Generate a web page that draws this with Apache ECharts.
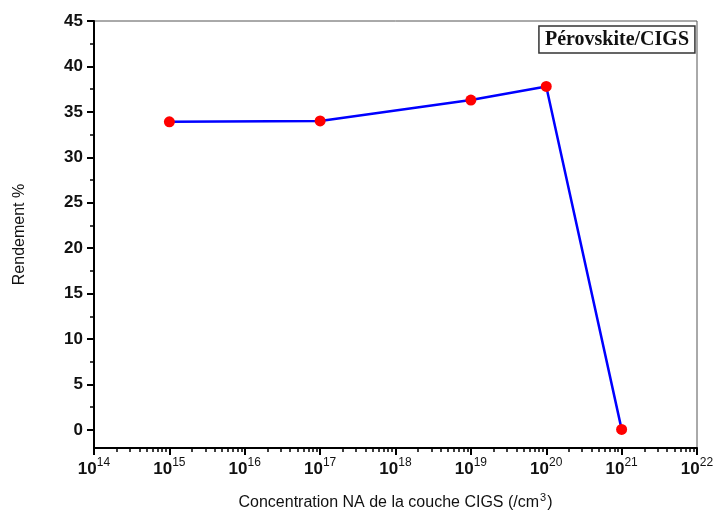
<!DOCTYPE html>
<html>
<head>
<meta charset="utf-8">
<title>Rendement vs concentration NA</title>
<script src="https://cdn.jsdelivr.net/npm/echarts@6/dist/echarts.min.js"></script>
<style>
  html, body { margin: 0; padding: 0; background: #fff; }
  #chart { width: 715px; height: 512px; }
</style>
</head>
<body>
<div id="chart"></div>
<script>
// Acceptor doping of the CIGS layer (cm^-3) and resulting efficiency (%)
const concentrations = [1e15, 1e17, 1e19, 1e20, 1e21];
const rendement = [33.9, 34.0, 36.3, 37.8, 0.05];

// Axis tick values
const yMajorTicks = [0, 5, 10, 15, 20, 25, 30, 35, 40, 45];
const yMinorTicks = [2.5, 7.5, 12.5, 17.5, 22.5, 27.5, 32.5, 37.5, 42.5];
const xDecades = [1e14, 1e15, 1e16, 1e17, 1e18, 1e19, 1e20, 1e21, 1e22];

const xMinorTicks = [];
for (let d = 0; d < xDecades.length - 1; d++) {
  for (let k = 2; k <= 9; k++) xMinorTicks.push(k * xDecades[d]);
}

const FONT = 'Arial, "Liberation Sans", sans-serif';

const chart = echarts.init(document.getElementById('chart'));

const xBase = {
  type: 'log',
  logBase: 10,
  min: 1e14,
  max: 1e22,
  splitLine: { show: false }
};
const yBase = {
  type: 'value',
  min: -2,
  max: 45,
  splitLine: { show: false }
};

chart.setOption({
  animation: false,
  backgroundColor: '#fff',
  title: {
    text: 'Pérovskite/CIGS',
    right: 20,
    top: 26,
    padding: [4, 6, 3, 6],
    borderColor: '#333',
    borderWidth: 1.5,
    textStyle: {
      fontFamily: '"Liberation Serif", "Times New Roman", serif',
      fontWeight: 'bold',
      fontSize: 20,
      lineHeight: 20,
      color: '#111'
    }
  },
  grid: {
    left: 94,
    right: 18,
    top: 21,
    bottom: 64,
    outerBoundsMode: 'none',
    show: true,
    borderColor: '#555',
    borderWidth: 1
  },
  xAxis: [
    Object.assign({}, xBase, {
      position: 'bottom',
      name: '{t|Concentration NA de la couche CIGS (/cm}{s|3}{t|)}',
      nameLocation: 'middle',
      nameGap: 44,
      nameTextStyle: {
        fontFamily: FONT,
        fontSize: 16,
        color: '#111',
        rich: {
          t: { fontFamily: FONT, fontSize: 16, color: '#111', lineHeight: 19, verticalAlign: 'bottom' },
          s: { fontFamily: FONT, fontSize: 11, color: '#111', lineHeight: 12, verticalAlign: 'top', padding: [0, 1, 0, 1] }
        }
      },
      axisLine: { show: true, onZero: false, lineStyle: { color: '#000', width: 2 } },
      axisTick: {
        show: true,
        inside: false,
        length: 7,
        lineStyle: { color: '#000', width: 2 },
        customValues: xDecades
      },
      axisLabel: {
        show: true,
        margin: 9,
        customValues: xDecades,
        formatter: function (v) {
          const e = Math.round(Math.log10(v));
          return '{b|10}{s|' + e + '}';
        },
        rich: {
          b: { fontFamily: FONT, fontWeight: 'bold', fontSize: 17, color: '#111', lineHeight: 21, verticalAlign: 'bottom' },
          s: { fontFamily: FONT, fontWeight: 'normal', fontSize: 12, color: '#111', lineHeight: 13, verticalAlign: 'top' }
        }
      }
    }),
    Object.assign({}, xBase, {
      position: 'bottom',
      axisLine: { show: false, onZero: false },
      axisTick: {
        show: true,
        inside: false,
        length: 4,
        lineStyle: { color: '#000', width: 1.5 },
        customValues: xMinorTicks
      },
      axisLabel: { show: false }
    })
  ],
  yAxis: [
    Object.assign({}, yBase, {
      position: 'left',
      name: 'Rendement %',
      nameLocation: 'middle',
      nameGap: 66,
      nameRotate: 90,
      nameTextStyle: { fontFamily: FONT, fontSize: 16, color: '#111' },
      axisLine: { show: true, onZero: false, lineStyle: { color: '#000', width: 2 } },
      axisTick: {
        show: true,
        inside: false,
        length: 7,
        lineStyle: { color: '#000', width: 2 },
        customValues: yMajorTicks
      },
      axisLabel: {
        show: true,
        margin: 11,
        customValues: yMajorTicks,
        fontFamily: FONT,
        fontWeight: 'bold',
        fontSize: 17,
        color: '#111'
      }
    }),
    Object.assign({}, yBase, {
      position: 'left',
      axisLine: { show: false, onZero: false },
      axisTick: {
        show: true,
        inside: false,
        length: 4,
        lineStyle: { color: '#000', width: 1.5 },
        customValues: yMinorTicks
      },
      axisLabel: { show: false }
    })
  ],
  series: [{
    type: 'line',
    xAxisIndex: 0,
    yAxisIndex: 0,
    data: concentrations.map((c, i) => [c, rendement[i]]),
    lineStyle: { color: '#0000ff', width: 2.5 },
    itemStyle: { color: '#ff0000' },
    symbol: 'circle',
    symbolSize: 11,
    showAllSymbol: true,
    z: 5
  }]
});
</script>
</body>
</html>
